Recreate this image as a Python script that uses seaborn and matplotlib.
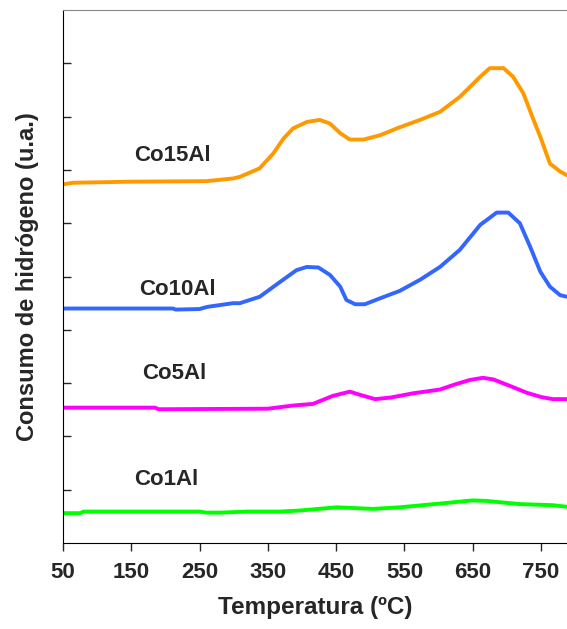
import numpy as np
import pandas as pd
import seaborn as sns
from matplotlib import pyplot as plt

sns.set_style("white")
plt.rcParams['font.family'] = ['Liberation Sans', 'DejaVu Sans']
plt.rcParams['font.weight'] = 'bold'

# readings (temperature in C, signal in arbitrary units with offsets)
t_co1 = [50, 75, 80, 150, 250, 260, 280, 300, 320, 368, 397, 451, 504, 543, 602, 650, 670, 719, 767, 788]
y_co1 = [0.56, 0.56, 0.59, 0.59, 0.59, 0.57, 0.57, 0.58, 0.59, 0.59, 0.61, 0.67, 0.64, 0.67, 0.74, 0.80, 0.79, 0.73, 0.71, 0.68]

t_co5 = [50, 185, 190, 350, 387, 416, 445, 470, 485, 507, 530, 563, 580, 602, 625, 646, 665, 680, 704, 729, 750, 767, 788]
y_co5 = [2.54, 2.54, 2.51, 2.52, 2.58, 2.61, 2.76, 2.84, 2.78, 2.70, 2.73, 2.81, 2.84, 2.88, 2.98, 3.06, 3.10, 3.07, 2.95, 2.82, 2.74, 2.70, 2.70]

t_co10 = [50, 211, 215, 250, 261, 299, 309, 338, 368, 392, 407, 424, 441, 456, 465, 478, 492, 514, 543, 573,
          602, 631, 661, 685, 702, 719, 734, 749, 763, 778, 788]
y_co10 = [4.40, 4.40, 4.38, 4.39, 4.43, 4.50, 4.50, 4.62, 4.90, 5.12, 5.18, 5.17, 5.03, 4.81, 4.56, 4.48, 4.48, 4.59, 4.73, 4.94,
          5.18, 5.50, 5.97, 6.20, 6.20, 6.00, 5.56, 5.09, 4.81, 4.65, 4.62]

t_co15 = [50, 65, 150, 260, 299, 309, 338, 358, 373, 387, 407, 426, 441, 456, 470, 490, 514, 543, 573,
          602, 631, 661, 675, 695, 709, 724, 739, 749, 763, 778, 788]
y_co15 = [6.73, 6.76, 6.78, 6.79, 6.84, 6.87, 7.03, 7.31, 7.59, 7.78, 7.90, 7.94, 7.87, 7.69, 7.57, 7.57, 7.65, 7.80, 7.94,
          8.09, 8.37, 8.75, 8.91, 8.91, 8.75, 8.44, 7.94, 7.62, 7.12, 6.97, 6.90]

names = ["Co1Al", "Co5Al", "Co10Al", "Co15Al"]
colors = ["#00FF00", "#FF00FF", "#3366FF", "#FF9900"]
label_x = [201, 213, 218, 211]
label_y = [1.20, 3.19, 4.75, 7.28]

series = [(t_co1, y_co1), (t_co5, y_co5), (t_co10, y_co10), (t_co15, y_co15)]

fig = plt.figure(figsize=(5.67, 6.29), dpi=100)
ax = fig.add_axes([0.111, 0.1367, 0.889, 0.8473])

for (t, y), c in zip(series, colors):
    sns.lineplot(x=t, y=y, color=c, linewidth=2.8, ax=ax)

for name, lx, ly in zip(names, label_x, label_y):
    ax.text(lx, ly, name, ha='center', va='center', fontsize=16, fontweight='bold')

ax.set_xlim(50, 788)
ax.set_ylim(0, 10)
ax.set_xticks([50, 150, 250, 350, 450, 550, 650, 750])
ax.set_yticks(range(1, 10))
ax.set_yticklabels([])
ax.tick_params(axis='x', bottom=True, direction='out', length=6, width=1, labelsize=16, pad=8)
ax.tick_params(axis='y', left=True, direction='in', length=6, width=1)
for lab in ax.get_xticklabels():
    lab.set_fontweight('bold')

ax.spines['right'].set_visible(False)
ax.spines['top'].set_color('#888888')
ax.spines['left'].set_color('black')
ax.spines['bottom'].set_color('black')

ax.set_xlabel('Temperatura (ºC)', fontsize=17.5, fontweight='bold', labelpad=9)
ax.set_ylabel('Consumo de hidrógeno (u.a.)', fontsize=17, fontweight='bold', labelpad=14)

fig.savefig('out.png', dpi=100)
